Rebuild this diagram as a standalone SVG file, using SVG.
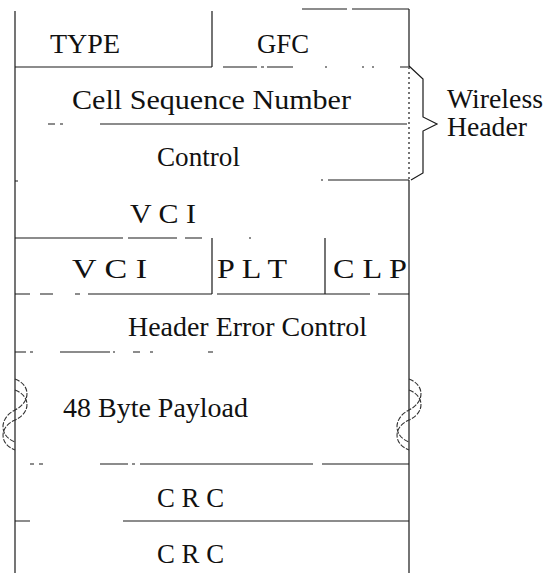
<svg xmlns="http://www.w3.org/2000/svg" width="546" height="573" viewBox="0 0 546 573">
<style>
.ln{stroke:#1a1a1a;stroke-width:1.2;fill:none}
.dot{stroke:#1a1a1a;stroke-width:1.2;fill:none;stroke-dasharray:2 3}
.sq{stroke:#333;stroke-width:1.1;fill:none;stroke-dasharray:5 1.5}
.t{font-family:'Liberation Serif','Times New Roman',serif;font-size:27px;fill:#111}
</style>
<rect width="546" height="573" fill="#fff"/>
<g id="frame">
<path class="ln" d="M15,11 V573"/>
<path class="ln" d="M409,9 V67 M409,180 V573"/>
<path class="dot" d="M409,67 V180"/>
<path class="ln" d="M302,9 H347 M352,9 H409"/>
</g>
<g id="type">
<path class="ln" d="M212,11 V67 M15,67 H212"/>
<text class="t" x="50" y="53" textLength="70" lengthAdjust="spacingAndGlyphs">TYPE</text>
</g>
<g id="gfc">
<path class="ln" d="M223,67 H257 M261,67 H264 M267,67 H293 M325,67 H327 M362,67 H364 M372,67 H374 M400,67 H408"/>
<text class="t" x="257" y="53" textLength="52" lengthAdjust="spacingAndGlyphs">GFC</text>
</g>
<g id="csn">
<path class="ln" d="M48,124 H55 M60,124 H63 M100,124 H407"/>
<text class="t" x="72" y="109" textLength="279" lengthAdjust="spacingAndGlyphs">Cell  Sequence  Number</text>
</g>
<g id="control">
<path class="ln" d="M15,181 H18 M321,180 H323 M328,180 H409"/>
<text class="t" x="157" y="166" textLength="83" lengthAdjust="spacingAndGlyphs">Control</text>
</g>
<g id="wireless-header">
<path class="ln" d="M409,66 L423,79 L423,117 L437,124 L423,131 L423,173 L411,180"/>
<text class="t" x="447" y="108" textLength="96" lengthAdjust="spacingAndGlyphs">Wireless</text>
<text class="t" x="447" y="136" textLength="80" lengthAdjust="spacingAndGlyphs">Header</text>
</g>
<g id="vci1">
<path class="ln" d="M15,238 H123 M128,238 H177 M185,238 H202 M249,238 H251"/>
<text class="t" x="130" y="223" textLength="66" lengthAdjust="spacingAndGlyphs">V C I</text>
</g>
<g id="vci2">
<path class="ln" d="M212,238 V294 M15,294 H30 M40,294 H53 M75,294 H80 M88,294 H212"/>
<text class="t" x="72" y="278" textLength="75" lengthAdjust="spacingAndGlyphs">V C I</text>
</g>
<g id="plt">
<path class="ln" d="M325,238 V294 M217,294 H325"/>
<text class="t" x="217" y="278" textLength="70" lengthAdjust="spacingAndGlyphs">P L T</text>
</g>
<g id="clp">
<path class="ln" d="M325,294 H370 M378,294 H409"/>
<text class="t" x="333" y="278" textLength="74" lengthAdjust="spacingAndGlyphs">C L P</text>
</g>
<g id="hec">
<path class="ln" d="M15,352 H26 M30,352 H33 M60,352 H110 M113,352 H115 M133,352 H140 M150,352 H153 M208,352 H213"/>
<text class="t" x="128" y="336" textLength="239" lengthAdjust="spacingAndGlyphs">Header Error Control</text>
</g>
<g id="payload">
<path class="sq" d="M15,379 C31,385 31,402 15,410 C-1,418 -1,436 15,442"/>
<path class="sq" d="M15,390 C31,396 31,413 15,420 C-1,427 -1,444 15,450"/>
<path class="sq" d="M409,379 C425,385 425,402 409,410 C393,418 393,436 409,442"/>
<path class="sq" d="M409,390 C425,396 425,413 409,420 C393,427 393,444 409,450"/>
<path class="ln" d="M30,464 H34 M39,464 H43 M100,464 H128 M132,464 H135 M140,464 H313 M322,464 H409"/>
<text class="t" x="63" y="417" textLength="185" lengthAdjust="spacingAndGlyphs">48 Byte Payload</text>
</g>
<g id="crc1">
<path class="ln" d="M15,521 H30 M123,521 H409"/>
<text class="t" x="157" y="507" textLength="67" lengthAdjust="spacingAndGlyphs">C R C</text>
</g>
<g id="crc2">
<text class="t" x="157" y="563" textLength="67" lengthAdjust="spacingAndGlyphs">C R C</text>
</g>
</svg>
